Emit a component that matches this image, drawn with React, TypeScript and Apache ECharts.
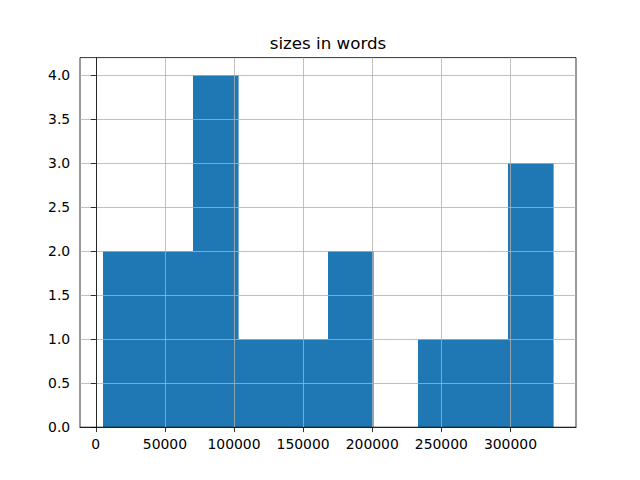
import React, { useEffect, useRef } from "react";
import * as echarts from "echarts";

const title = "sizes in words";
const binEdges = [4900, 37520, 70140, 102760, 135380, 168000, 200620, 233240, 265860, 298480, 331100];
const counts = [2, 2, 4, 1, 1, 2, 0, 1, 1, 3];
const xTicks = [0, 50000, 100000, 150000, 200000, 250000, 300000];
const yTicks = [0, 0.5, 1.0, 1.5, 2.0, 2.5, 3.0, 3.5, 4.0];

export default function App() {
  const ref = useRef<HTMLDivElement>(null);
  useEffect(() => {
    if (!ref.current) return;
    const chart = echarts.init(ref.current, null, { renderer: "svg" });
    const data = counts.map((c, i) => [binEdges[i], binEdges[i + 1], c]);
    const span = binEdges[binEdges.length - 1] - binEdges[0];
    const xMin = binEdges[0] - span * 0.05;
    const xMax = binEdges[binEdges.length - 1] + span * 0.05;
    const yMax = Math.max(...counts) * 1.05;
    const font = "DejaVu Sans";
    chart.setOption({
      animation: false,
      backgroundColor: "#ffffff",
      textStyle: { fontFamily: font },
      grid: { left: 80, right: 64, top: 57.6, bottom: 52.8, show: true, borderColor: "#000", borderWidth: 0.8, backgroundColor: "transparent", z: 10 },
      graphic: [
        {
          type: "text",
          x: 328,
          y: 43,
          z: 20,
          style: { text: title, fontFamily: font, fontSize: 16.7, fill: "#000", textAlign: "center", textVerticalAlign: "middle" },
        },
      ],
      xAxis: {
        type: "value",
        min: xMin,
        max: xMax,
        z: 10,
        axisLine: { show: true, onZero: false, lineStyle: { color: "#000", width: 0.8 } },
        axisTick: { show: true, length: 4.9, customValues: xTicks, lineStyle: { color: "#000", width: 0.8 } },
        axisLabel: { customValues: xTicks, margin: 9.8, fontFamily: font, fontSize: 13.9, color: "#000", formatter: (v: number) => String(Math.round(v)) },
        splitLine: { show: true, lineStyle: { color: "#b0b0b0", width: 0.8 } },
      },
      yAxis: {
        type: "value",
        min: 0,
        max: yMax,
        z: 10,
        axisLine: { show: true, lineStyle: { color: "#000", width: 0.8 } },
        axisTick: { show: true, length: 4.9, customValues: yTicks, lineStyle: { color: "#000", width: 0.8 } },
        axisLabel: { customValues: yTicks, margin: 9.8, fontFamily: font, fontSize: 13.9, color: "#000", formatter: (v: number) => v.toFixed(1) },
        splitLine: { show: true, lineStyle: { color: "#b0b0b0", width: 0.8 } },
      },
      series: [
        {
          type: "custom",
          z: 2,
          data,
          encode: { x: [0, 1], y: 2 },
          renderItem: (params: any, api: any) => {
            const p0 = api.coord([api.value(0), 0]);
            const p1 = api.coord([api.value(1), api.value(2)]);
            const x0 = Math.round(p0[0]);
            const x1 = Math.round(p1[0]);
            const y0 = Math.round(p0[1]);
            const y1 = Math.round(p1[1]);
            return {
              type: "rect",
              shape: { x: x0, y: y1, width: x1 - x0 + 0.6, height: y0 - y1 },
              style: { fill: "#1f77b4" },
            };
          },
        },
      ],
    });
    return () => chart.dispose();
  }, []);
  return <div ref={ref} style={{ position: "fixed", left: 0, top: 0, width: 640, height: 480 }} />;
}
